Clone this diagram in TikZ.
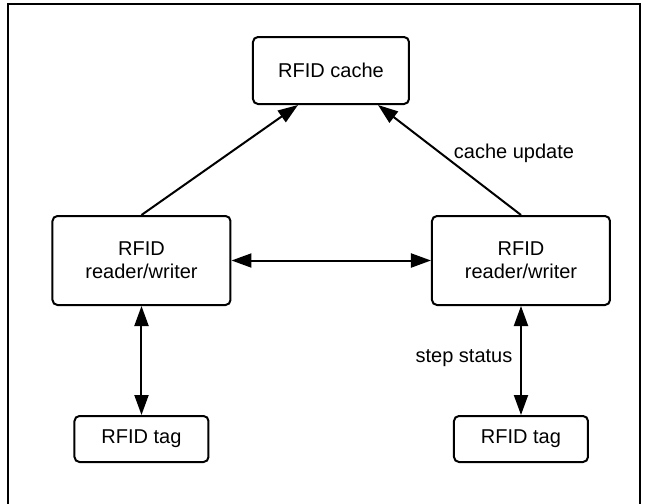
\documentclass[tikz,border=0pt]{standalone}
\usepackage{fontspec}
\setmainfont{Liberation Sans}
\usetikzlibrary{arrows.meta,positioning}
\definecolor{rfidInk}{RGB}{0,0,0}

\begin{document}
\begin{tikzpicture}[x=0.5pt,y=-0.5pt,
    box/.style={draw=rfidInk,line width=1pt,rounded corners=2.5pt,align=center,font=\fontsize{10}{11.5}\selectfont},
    link/.style={draw=rfidInk,line width=1pt,-{Triangle[length=10pt,width=7pt]}},
    twoway/.style={draw=rfidInk,line width=1pt,{Triangle[length=10pt,width=7pt]}-{Triangle[length=10pt,width=7pt]}},
    lbl/.style={text=rfidInk,font=\fontsize{10}{11.5}\selectfont}]
    \useasboundingbox (0,0) rectangle (645,504);
    \draw[rfidInk,line width=1pt] (8,520) |- (640,4) -- (640,520);
    % boxes
    \node[box,minimum width=78pt,minimum height=33.5pt] (cache) at (331,70.5) {RFID cache};
    \node[box,minimum width=89pt,minimum height=44.5pt] (readerL) at (141.5,260.5) {RFID\\reader/writer};
    \node[box,minimum width=89pt,minimum height=44.5pt] (readerR) at (521,260.5) {RFID\\reader/writer};
    \node[box,minimum width=67pt,minimum height=23pt] (tagL) at (141.5,439) {RFID tag};
    \node[box,minimum width=67pt,minimum height=23pt] (tagR) at (521,439) {RFID tag};
    % links
    \draw[link] (readerL.north) -- ([xshift=-16.5pt]cache.south);
    \draw[link] (readerR.north) -- ([xshift=23.5pt]cache.south);
    \draw[twoway] (readerL) -- (readerR);
    \draw[twoway] (readerL) -- (tagL);
    \draw[twoway] (readerR) -- (tagR);
    \node[lbl] (updLbl) at (514,153) {cache update};
    \node[lbl] (stepLbl) at (464,358) {step status};
  \end{tikzpicture}
\end{document}
